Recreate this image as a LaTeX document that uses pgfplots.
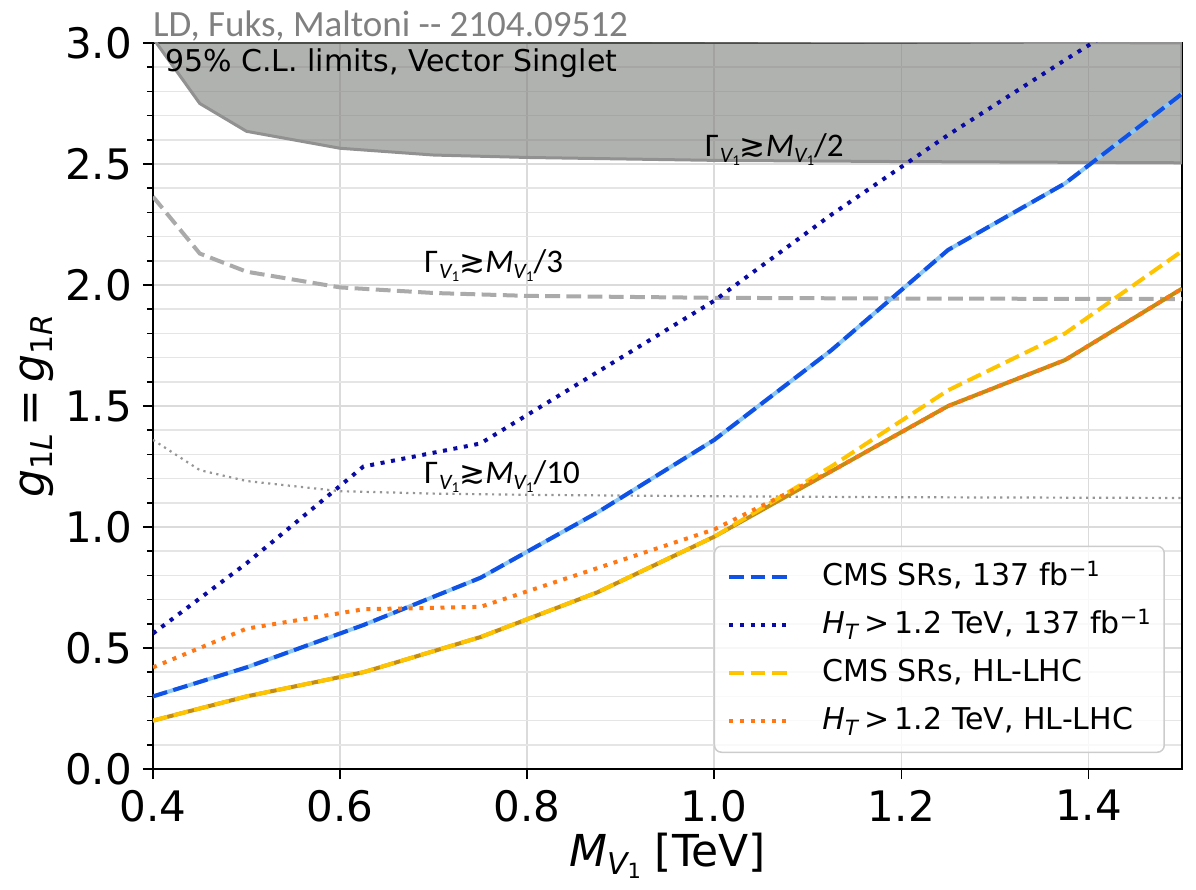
\documentclass[border=0pt]{standalone}
\usepackage{fontspec}
\setmainfont{DejaVu Sans}
\newfontfamily\carlito{Carlito}
\usepackage{pgfplots}
\usepackage{pgfplotstable}
\pgfplotsset{compat=1.18}

\definecolor{cmsblue}{RGB}{16,82,230}
\definecolor{cmslight}{RGB}{140,200,245}
\definecolor{htnavy}{RGB}{10,10,165}
\definecolor{hlgold}{RGB}{255,196,0}
\definecolor{hlcomb}{RGB}{196,140,16}
\definecolor{htorange}{RGB}{255,120,20}
\definecolor{bandfill}{RGB}{124,127,121}
\definecolor{bandedge}{RGB}{145,145,145}
\definecolor{widthgray}{RGB}{170,170,170}
\definecolor{widthdot}{RGB}{150,150,150}

% 95% C.L. upper limits on the coupling, per mass point (TeV)
\pgfplotstableread{
m     blue   navy   gold   orange  comb
0.400 0.300  0.560  0.200  0.420   0.200
0.500 0.420  0.850  0.300  0.580   0.300
0.625 0.595  1.250  0.400  0.660   0.400
0.750 0.790  1.345  0.545  0.670   0.545
0.875 1.060  1.640  0.730  0.830   0.730
1.000 1.360  1.935  0.960  0.990   0.960
1.125 1.730  2.290  1.250  1.230   1.230
1.250 2.145  2.620  1.565  1.500   1.500
1.375 2.420  2.930  1.800  1.690   1.690
1.500 2.790  3.230  2.140  1.985   1.985
}\limits

% coupling at which the width reaches a given fraction of the mass
\pgfplotstableread{
m     half   third  tenth
0.400 3.020  2.365  1.360
0.450 2.750  2.130  1.235
0.500 2.635  2.055  1.190
0.600 2.565  1.990  1.148
0.700 2.537  1.967  1.138
0.800 2.527  1.955  1.133
1.000 2.515  1.947  1.127
1.200 2.510  1.944  1.123
1.500 2.505  1.942  1.120
}\widths

\newcommand{\subV}{\raisebox{-6pt}{\fontsize{22}{22}\selectfont\itshape V\raisebox{-3pt}{\fontsize{15}{15}\selectfont\upshape 1}}}
\newcommand{\widthlabel}[1]{{\carlito\fontsize{33}{38}\selectfont Γ\kern1pt\subV{\normalfont\fontsize{31}{38}\selectfont ≳}\textit{M}\subV/#1}}
\newcommand{\fbinv}{fb\textsuperscript{−1}}
\newcommand{\HT}{\textit{H}\textsubscript{\textit{T}}\,>\,1.2}

\begin{document}
\begin{tikzpicture}
\begin{axis}[
  name=main,
  scale only axis, width=1029pt, height=726pt,
  xmin=0.4, xmax=1.5, ymin=0, ymax=3,
  xtick={0.4,0.6,0.8,1.0,1.2,1.4},
  ytick={0,0.5,1.0,1.5,2.0,2.5,3.0},
  minor y tick num=4,
  tick pos=left, tick align=outside,
  major tick length=10pt, minor tick length=6pt,
  every tick/.append style={black, line width=1.6pt},
  grid=both,
  major grid style={draw=black!14, line width=1.6pt},
  minor grid style={draw=black!10, line width=1.6pt},
  axis line style={black, line width=2pt},
  /pgf/number format/assume math mode=true,
  /pgf/number format/.cd, fixed, fixed zerofill, precision=1, /pgfplots/.cd,
  tick label style={font=\fontsize{42}{48}\selectfont},
  yticklabel style={inner sep=0pt, xshift=-11pt},
  xticklabel style={inner sep=0pt, yshift=-11pt},
  xlabel={\textit{M}\raisebox{-8pt}{\fontsize{30}{30}\selectfont\itshape V\raisebox{-4pt}{\fontsize{21}{21}\selectfont\upshape 1}}\ [TeV]},
  ylabel={\textit{g}\raisebox{-8pt}{\fontsize{30}{30}\selectfont 1\textit{L}}\,=\,\textit{g}\raisebox{-8pt}{\fontsize{30}{30}\selectfont 1\textit{R}}},
  every axis x label/.style={at={(axis description cs:0.5,0)}, anchor=north, yshift=-64pt, inner sep=0pt, font=\fontsize{44}{50}\selectfont},
  every axis y label/.style={at={(axis description cs:-0.1127,0.5)}, anchor=center, rotate=90, inner sep=0pt, font=\fontsize{44}{50}\selectfont},
  legend image code/.code={\draw[#1] (0pt,0pt) -- (63pt,0pt);},
  legend style={
    at={(axis cs:1.5,0)}, anchor=south east, xshift=-17pt, yshift=16pt,
    draw=black!20, line width=1.5pt, rounded corners=7pt,
    fill=white, fill opacity=0.8, text opacity=1, draw opacity=1,
    font=\fontsize{30}{36}\selectfont,
    inner xsep=13pt, inner ysep=17pt, row sep=20pt,
    nodes={inner sep=0pt, text height=22pt, text depth=6pt},
    /tikz/every odd column/.append style={column sep=28pt},
  },
  legend cell align=left,
]
% region where the width exceeds half the mass
\addplot[fill=bandfill, fill opacity=0.6, draw=bandedge, line width=3pt, forget plot]
  table[x=m, y=half] \widths -- (axis cs:1.5,3.0) -- cycle;
\addplot[widthgray, line width=4pt, dash pattern=on 14.8pt off 6.4pt, forget plot]
  table[x=m, y=third] \widths;
\addplot[widthdot, line width=2.2pt, dash pattern=on 2.2pt off 4.4pt, forget plot]
  table[x=m, y=tenth] \widths;

% combined limits underneath the individual ones
\addplot[cmslight, line width=4pt, forget plot] table[x=m, y=blue] \limits;
\addplot[hlcomb, line width=4pt, forget plot] table[x=m, y=comb] \limits;

\addplot[cmsblue, line width=4pt, dash pattern=on 14.8pt off 6.4pt] table[x=m, y=blue] \limits;
\addlegendentry{CMS SRs, 137 \fbinv}
\addplot[htnavy, line width=4pt, dash pattern=on 4pt off 6.6pt] table[x=m, y=navy] \limits;
\addlegendentry{\HT\ TeV, 137 \fbinv}
\addplot[hlgold, line width=4pt, dash pattern=on 14.8pt off 6.4pt] table[x=m, y=gold] \limits;
\addlegendentry{CMS SRs, HL-LHC}
\addplot[htorange, line width=4pt, dash pattern=on 4pt off 6.6pt] table[x=m, y=orange] \limits;
\addlegendentry{\HT\ TeV, HL-LHC}

\node[anchor=base west, inner sep=0pt, font=\fontsize{30}{36}\selectfont] at (axis cs:0.4128,2.884) {95\% C.L. limits, Vector Singlet};
\node[anchor=base west, inner sep=0pt] at (axis cs:0.99,2.529) {\widthlabel{2}};
\node[anchor=base west, inner sep=0pt] at (axis cs:0.69,2.05) {\widthlabel{3}};
\node[anchor=base west, inner sep=0pt] at (axis cs:0.69,1.178) {\widthlabel{10}};
\end{axis}
\node[anchor=base west, inner sep=0pt, text=black!50, font=\carlito\fontsize{37}{42}\selectfont]
  at ([yshift=6.5pt]main.north west) {LD, Fuks, Maltoni -- 2104.09512};
\pgfresetboundingbox
\path[use as bounding box] (-153pt,-120pt) rectangle (1043pt,769pt);
\end{tikzpicture}
\end{document}
